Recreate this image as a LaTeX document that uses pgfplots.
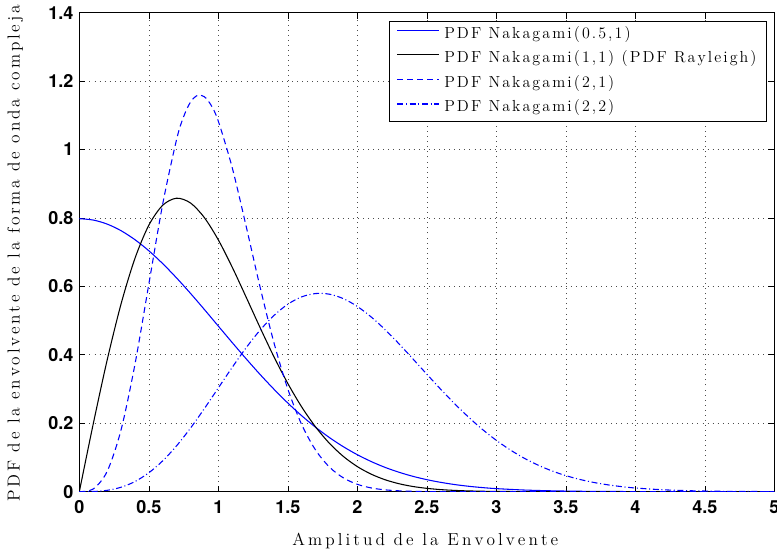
\documentclass[border=0pt]{standalone}
\usepackage{pgfplots}
\pgfplotsset{compat=1.18}
\usepackage{fontspec}
\newfontfamily\tickfont{TeX Gyre Heros}
\ExplSyntaxOn
\dim_new:N \l_ls_dim
\seq_new:N \l_ls_seq
\NewDocumentCommand\spc{O{1.5pt}m}{
  \dim_set:Nn \l_ls_dim {#1}
  \seq_set_split:Nnn \l_ls_seq {~} {#2}
  \seq_map_indexed_inline:Nn \l_ls_seq
    { \int_compare:nNnT {##1} > {1} {\nobreakspace} \tl_map_inline:nn {##2} {####1\kern\l_ls_dim\relax} }
}
\ExplSyntaxOff

\begin{document}
\begin{tikzpicture}
\begin{axis}[
  scale only axis, width=521.25pt, height=359.25pt,
  xmin=0, xmax=5, ymin=0, ymax=1.4,
  xtick={0,0.5,1,1.5,2,2.5,3,3.5,4,4.5,5},
  ytick={0,0.2,0.4,0.6,0.8,1,1.2,1.4},
  /pgf/number format/assume math mode=true,
  tick label style={font=\tickfont\bfseries\fontsize{13.5}{15}\selectfont},
  xticklabel style={yshift=-3pt},
  yticklabel style={xshift=-1pt},
  grid=major, major grid style={black!70, line width=0.5pt, dash pattern=on 0.6pt off 3.2pt},
  tick align=inside, major tick length=4.5pt,
  every tick/.style={black, line width=0.5pt},
  axis line style={black, line width=0.6pt},
  label style={font=\fontsize{13}{15}\selectfont},
  xlabel={\spc[2.3pt]{Amplitud de la Envolvente}},
  ylabel={\spc[2.1pt]{PDF de la envolvente de la forma de onda compleja}},
  xlabel style={at={(axis description cs:0.5,-0.1023)}, anchor=center},
  ylabel style={at={(axis description cs:-0.0921,0.5)}, anchor=center},
  legend cell align=left,
  legend image code/.code={\draw[#1] (0pt,0.3em) -- (31pt,0.3em);},
  legend style={at={(rel axis cs:0.9885,0.983)}, anchor=north east,
    font=\fontsize{12}{14}\selectfont, draw=black, line width=0.6pt,
    inner xsep=5.5pt, inner ysep=4.15pt, row sep=6.9pt, column sep=3.75pt,
    nodes={inner sep=0pt, text height=8.6pt, text depth=2.9pt}},
]
\addplot[blue, line width=0.8pt, smooth] table {
x y
0 0.7979
0.1 0.7939
0.2 0.7821
0.3 0.7628
0.4 0.7365
0.5 0.7041
0.6 0.6664
0.7 0.6245
0.8 0.5794
0.9 0.5322
1.0 0.4839
1.1 0.4357
1.2 0.3884
1.3 0.3427
1.4 0.2995
1.5 0.2590
1.6 0.2218
1.7 0.1881
1.8 0.1579
1.9 0.1312
2.0 0.1080
2.1 0.0880
2.2 0.0709
2.3 0.0567
2.4 0.0448
2.5 0.0351
2.6 0.0272
2.7 0.0208
2.8 0.0158
2.9 0.0119
3.0 0.0089
3.2 0.0048
3.4 0.0025
3.6 0.0012
3.8 0.0006
4.0 0.0003
4.5 0.0000
5.0 0.0000
};
\addlegendentry{\spc[1.55pt]{PDF Nakagami(0.5,1)}}
\addplot[black, line width=0.8pt, smooth] table {
x y
0 0
0.1 0.1980
0.2 0.3843
0.3 0.5484
0.4 0.6817
0.5 0.7788
0.6 0.8372
0.7 0.8577
0.8 0.8437
0.9 0.8007
1.0 0.7358
1.1 0.6560
1.2 0.5686
1.3 0.4798
1.4 0.3944
1.5 0.3162
1.6 0.2474
1.7 0.1890
1.8 0.1410
1.9 0.1028
2.0 0.0733
2.1 0.0511
2.2 0.0348
2.3 0.0232
2.4 0.0151
2.5 0.0097
2.6 0.0060
2.7 0.0037
2.8 0.0022
3.0 0.0007
3.5 0.0000
5.0 0.0000
};
\addlegendentry{\spc[1.55pt]{PDF Nakagami(1,1) (PDF Rayleigh)}}
\addplot[blue, line width=0.8pt, smooth, dash pattern=on 4.5pt off 3pt] table {
x y
0 0
0.1 0.0078
0.2 0.0591
0.3 0.1804
0.4 0.3718
0.5 0.6065
0.6 0.8411
0.7 1.0299
0.75 1.0957
0.8 1.1389
0.85 1.1582
0.9 1.1542
0.95 1.1281
1.0 1.0827
1.1 0.9468
1.2 0.7759
1.3 0.5985
1.4 0.4355
1.5 0.2999
1.6 0.1958
1.7 0.1214
1.8 0.0716
1.9 0.0402
2.0 0.0215
2.1 0.0109
2.2 0.0053
2.3 0.0025
2.4 0.0011
2.5 0.0005
2.7 0.0000
5.0 0.0000
};
\addlegendentry{\spc[1.55pt]{PDF Nakagami(2,1)}}
\addplot[blue, line width=0.8pt, smooth, dash pattern=on 4.5pt off 2pt on 0.75pt off 2pt] table {
x y
0 0
0.1 0.0005
0.2 0.0039
0.3 0.0129
0.4 0.0295
0.5 0.0552
0.6 0.0902
0.7 0.1342
0.8 0.1859
0.9 0.2431
1.0 0.3033
1.1 0.3634
1.2 0.4206
1.3 0.4719
1.4 0.5149
1.5 0.5479
1.6 0.5694
1.7 0.5791
1.8 0.5771
1.9 0.5641
2.0 0.5413
2.1 0.5105
2.2 0.4734
2.3 0.4320
2.4 0.3880
2.5 0.3433
2.6 0.2992
2.7 0.2571
2.8 0.2178
2.9 0.1819
3.0 0.1500
3.1 0.1220
3.2 0.0979
3.3 0.0776
3.4 0.0607
3.5 0.0469
3.6 0.0358
3.7 0.0270
3.8 0.0201
3.9 0.0148
4.0 0.0107
4.2 0.0055
4.4 0.0027
4.6 0.0012
4.8 0.0006
5.0 0.0002
};
\addlegendentry{\spc[1.55pt]{PDF Nakagami(2,2)}}
\end{axis}
\pgfresetboundingbox
\path (current axis.south west) ++(-59.5pt,-48.2pt) coordinate (bl);
\path (current axis.north east) ++(2pt,9.5pt) coordinate (tr);
\path[use as bounding box] (bl) rectangle (tr);
\end{tikzpicture}
\end{document}
